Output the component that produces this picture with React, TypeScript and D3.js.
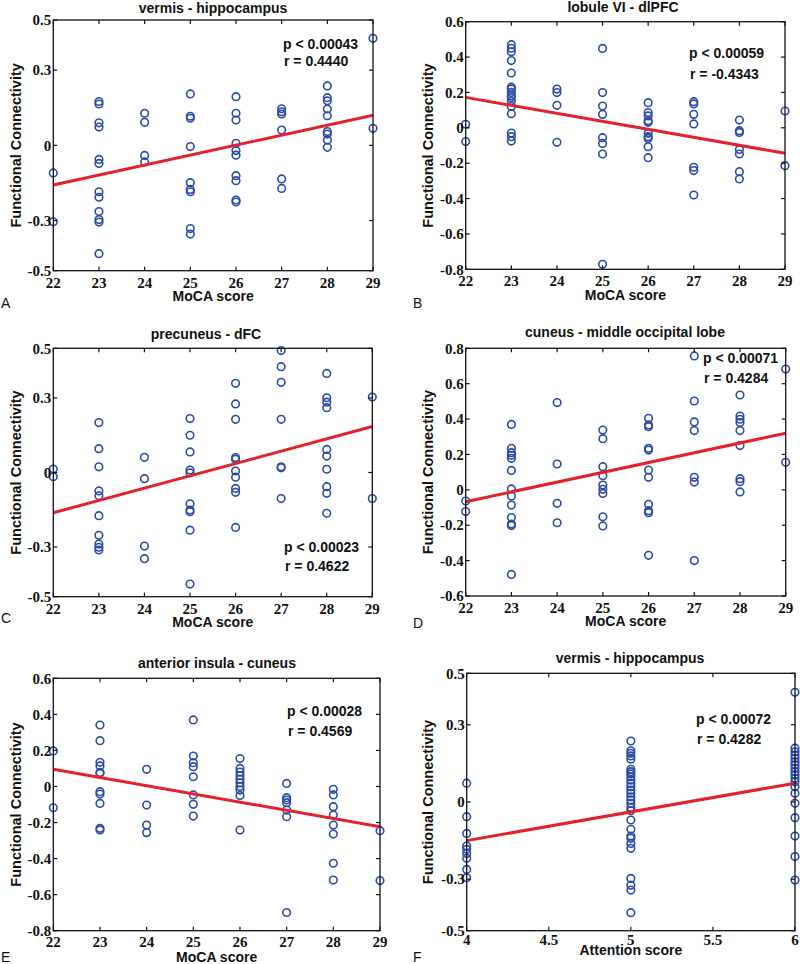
import React from 'react';
import * as d3 from 'd3';

// ---------- tick values ----------
const mocaTicks = [22, 23, 24, 25, 26, 27, 28, 29];
const attentionTicks = [4, 4.5, 5, 5.5, 6];
const yTicksHalf = [-0.5, -0.3, 0, 0.3, 0.5];
const yTicksLow = [-0.8, -0.6, -0.4, -0.2, 0, 0.2, 0.4, 0.6];
const yTicksHigh = [-0.6, -0.4, -0.2, 0, 0.2, 0.4, 0.6, 0.8];

type Group = [number, number[]];

// ---------- A: vermis - hippocampus vs MoCA ----------
const dataA: Group[] = [
  [22, [-0.11, -0.305]],
  [23, [0.175, 0.165, 0.09, 0.073, -0.056, -0.072, -0.185, -0.207, -0.264, -0.296, -0.306, -0.432]],
  [24, [0.128, 0.092, -0.04, -0.066]],
  [25, [0.205, 0.116, 0.108, -0.005, -0.149, -0.176, -0.185, -0.332, -0.354]],
  [26, [0.194, 0.128, 0.101, 0.008, -0.021, -0.039, -0.121, -0.141, -0.218, -0.226]],
  [27, [0.146, 0.134, 0.125, 0.061, -0.134, -0.172]],
  [28, [0.237, 0.19, 0.178, 0.145, 0.118, 0.055, 0.045, 0.021, -0.008]],
  [29, [0.427, 0.068]],
];
const fitA = [-0.158, 0.12];

// ---------- B: lobule VI - dlPFC vs MoCA ----------
const dataB: Group[] = [
  [22, [0.02, -0.078]],
  [23, [0.47, 0.45, 0.43, 0.38, 0.31, 0.23, 0.22, 0.2, 0.18, 0.17, 0.15, 0.12, 0.08, -0.03, -0.05, -0.075]],
  [24, [0.219, 0.199, 0.127, -0.082]],
  [25, [0.449, 0.199, 0.123, 0.076, -0.056, -0.088, -0.148, -0.772]],
  [26, [0.142, 0.086, 0.067, 0.04, 0.031, -0.031, -0.05, -0.06, -0.107, -0.169]],
  [27, [0.148, 0.135, 0.076, 0.022, -0.223, -0.242, -0.38]],
  [28, [0.044, -0.016, -0.026, -0.122, -0.148, -0.248, -0.289]],
  [29, [0.095, -0.214]],
];
const fitB = [0.172, -0.144];

// ---------- C: precuneus - dFC vs MoCA ----------
const dataC: Group[] = [
  [22, [0.014, -0.017]],
  [23, [0.201, 0.096, 0.023, -0.074, -0.094, -0.174, -0.253, -0.288, -0.301, -0.312]],
  [24, [0.061, -0.025, -0.296, -0.347]],
  [25, [0.217, 0.15, 0.083, 0.01, -0.001, -0.126, -0.151, -0.158, -0.232, -0.449]],
  [26, [0.359, 0.276, 0.214, 0.06, 0.053, 0.006, -0.019, -0.064, -0.08, -0.221]],
  [27, [0.491, 0.426, 0.363, 0.214, 0.023, 0.019, -0.105]],
  [28, [0.399, 0.301, 0.283, 0.261, 0.093, 0.066, 0.013, -0.057, -0.084, -0.164]],
  [29, [0.304, -0.105]],
];
const fitC = [-0.162, 0.185];

// ---------- D: cuneus - middle occipital lobe vs MoCA ----------
const dataD: Group[] = [
  [22, [-0.063, -0.123]],
  [23, [0.37, 0.235, 0.21, 0.195, 0.178, 0.11, 0.005, -0.035, -0.086, -0.157, -0.193, -0.202, -0.478]],
  [24, [0.493, 0.146, -0.076, -0.186]],
  [25, [0.338, 0.289, 0.131, 0.08, 0.027, 0.003, -0.02, -0.152, -0.204]],
  [26, [0.404, 0.367, 0.357, 0.235, 0.225, 0.112, 0.071, -0.082, -0.118, -0.129, -0.37]],
  [27, [0.757, 0.502, 0.384, 0.335, 0.071, 0.044, -0.4]],
  [28, [0.536, 0.417, 0.399, 0.38, 0.335, 0.25, 0.063, 0.046, -0.012]],
  [29, [0.683, 0.156]],
];
const fitD = [-0.067, 0.32];

// ---------- E: anterior insula - cuneus vs MoCA ----------
const dataE: Group[] = [
  [22, [0.197, -0.118]],
  [23, [0.341, 0.254, 0.134, 0.114, 0.078, 0.073, -0.029, -0.042, -0.094, -0.232, -0.241]],
  [24, [0.095, -0.103, -0.214, -0.256]],
  [25, [0.369, 0.169, 0.132, 0.11, 0.054, -0.047, -0.099, -0.164]],
  [26, [0.155, 0.1, 0.08, 0.06, 0.04, 0.02, 0.0, -0.02, -0.05, -0.242]],
  [27, [0.017, -0.062, -0.075, -0.09, -0.131, -0.168, -0.699]],
  [28, [-0.016, -0.047, -0.112, -0.158, -0.214, -0.264, -0.426, -0.519]],
  [29, [-0.245, -0.522]],
];
const fitE = [0.095, -0.223];

// ---------- F: vermis - hippocampus vs Attention ----------
const dataF: Group[] = [
  [4, [0.073, -0.057, -0.122, -0.171, -0.184, -0.2, -0.219, -0.262, -0.294]],
  [5, [0.237, 0.199, 0.189, 0.179, 0.166, 0.127, 0.118, 0.109, 0.098, 0.085, 0.072, 0.059, 0.046, 0.034, 0.02, 0.008, -0.005, -0.021, -0.034, -0.07, -0.106, -0.132, -0.141, -0.161, -0.18, -0.297, -0.323, -0.342, -0.43]],
  [6, [0.426, 0.209, 0.195, 0.182, 0.17, 0.156, 0.144, 0.131, 0.118, 0.105, 0.092, 0.079, 0.059, 0.034, -0.005, -0.061, -0.132, -0.212, -0.303]],
];
const fitF = [-0.15, 0.073];

const titles = ['vermis - hippocampus', 'lobule VI - dlPFC', 'precuneus - dFC', 'cuneus - middle occipital lobe', 'anterior insula - cuneus', 'vermis - hippocampus'];
const pTexts = ['p < 0.00043', 'p < 0.00059', 'p < 0.00023', 'p < 0.00071', 'p < 0.00028', 'p < 0.00072'];
const rTexts = ['r = 0.4440', 'r = -0.4343', 'r = 0.4622', 'r = 0.4284', 'r = 0.4569', 'r = 0.4282'];
const letters = ['A', 'B', 'C', 'D', 'E', 'F'];

const SANS = "'Liberation Sans', Arial, Helvetica, sans-serif";
const SERIF = "'Liberation Serif', 'Times New Roman', 'DejaVu Serif', serif";
const BLUE = '#2c4ca8';
const RED = '#e3232b';

interface PanelCfg {
  data: Group[];
  fit: number[];
  xDomain: [number, number];
  xTicks: number[];
  yDomain: [number, number];
  yTicks: number[];
  xLabel: string;
  box: { l: number; r: number; t: number; b: number };
  title: { x: number; y: number };
  stat: { x: number; y1: number; y2: number };
  letter: { x: number; y: number };
  yLabelX: number;
  xTickDy: number;
  xLabelY: number;
}

const panels: PanelCfg[] = [
  { data: dataA, fit: fitA, xDomain: [22, 29], xTicks: mocaTicks, yDomain: [-0.5, 0.5], yTicks: yTicksHalf, xLabel: 'MoCA score',
    box: { l: 53.3, r: 373, t: 20, b: 270.7 }, title: { x: 213, y: 13 }, stat: { x: 283, y1: 49, y2: 66 }, letter: { x: 1, y: 308 }, yLabelX: 21, xTickDy: 17, xLabelY: 301 },
  { data: dataB, fit: fitB, xDomain: [22, 29], xTicks: mocaTicks, yDomain: [-0.8, 0.6], yTicks: yTicksLow, xLabel: 'MoCA score',
    box: { l: 465.7, r: 785, t: 21.7, b: 269.3 }, title: { x: 623, y: 12 }, stat: { x: 689, y1: 58, y2: 79 }, letter: { x: 413, y: 308 }, yLabelX: 433, xTickDy: 17, xLabelY: 300 },
  { data: dataC, fit: fitC, xDomain: [22, 29], xTicks: mocaTicks, yDomain: [-0.5, 0.5], yTicks: yTicksHalf, xLabel: 'MoCA score',
    box: { l: 53.3, r: 372.3, t: 348.3, b: 596.7 }, title: { x: 206, y: 339 }, stat: { x: 284, y1: 552, y2: 571 }, letter: { x: 1, y: 623 }, yLabelX: 21, xTickDy: 17, xLabelY: 627 },
  { data: dataD, fit: fitD, xDomain: [22, 29], xTicks: mocaTicks, yDomain: [-0.6, 0.8], yTicks: yTicksHigh, xLabel: 'MoCA score',
    box: { l: 465.7, r: 785.7, t: 348.3, b: 596 }, title: { x: 625, y: 337 }, stat: { x: 703, y1: 363, y2: 383 }, letter: { x: 413, y: 628 }, yLabelX: 433, xTickDy: 17, xLabelY: 626 },
  { data: dataE, fit: fitE, xDomain: [22, 29], xTicks: mocaTicks, yDomain: [-0.8, 0.6], yTicks: yTicksLow, xLabel: 'MoCA score',
    box: { l: 53.3, r: 380, t: 678.3, b: 930.7 }, title: { x: 217, y: 668 }, stat: { x: 287, y1: 716, y2: 736 }, letter: { x: 1, y: 962 }, yLabelX: 21, xTickDy: 16, xLabelY: 962 },
  { data: dataF, fit: fitF, xDomain: [4, 6], xTicks: attentionTicks, yDomain: [-0.5, 0.5], yTicks: yTicksHalf, xLabel: 'Attention score',
    box: { l: 466.7, r: 795, t: 673.3, b: 930.7 }, title: { x: 630, y: 663 }, stat: { x: 696, y1: 724, y2: 744 }, letter: { x: 413, y: 962 }, yLabelX: 433, xTickDy: 14, xLabelY: 955 },
];

const fmt = (d: number) => (d === 0 ? '0' : String(d));

function Panel({ cfg, idx }: { cfg: PanelCfg; idx: number }) {
  const { box } = cfg;
  const x = d3.scaleLinear().domain(cfg.xDomain).range([box.l, box.r]);
  const y = d3.scaleLinear().domain(cfg.yDomain).range([box.b, box.t]);
  const pts = cfg.data.flatMap(([xv, ys]) => ys.map((yv) => [xv, yv] as [number, number]));
  const fitLine = d3.line<[number, number]>().x((d) => x(d[0])).y((d) => y(d[1]));
  const fitPts: [number, number][] = [[cfg.xDomain[0], cfg.fit[0]], [cfg.xDomain[1], cfg.fit[1]]];
  const tl = 4;
  const cy = (box.t + box.b) / 2;
  return (
    <g>
      <text x={cfg.title.x} y={cfg.title.y} textAnchor="middle" style={{ fontFamily: SANS }} fontWeight="bold" fontSize={14} fill="#111">{titles[idx]}</text>
      {pts.map((p, i) => (
        <circle key={i} cx={x(p[0])} cy={y(p[1])} r={3.8} fill="none" stroke={BLUE} strokeWidth={1.6} />
      ))}
      <path d={fitLine(fitPts) || ''} stroke={RED} strokeWidth={3} fill="none" />
      <rect x={box.l} y={box.t} width={box.r - box.l} height={box.b - box.t} fill="none" stroke="#111" strokeWidth={1.3} />
      {cfg.xTicks.map((t) => (
        <g key={'x' + t}>
          <line x1={x(t)} x2={x(t)} y1={box.b} y2={box.b - tl} stroke="#111" strokeWidth={1.2} />
          <line x1={x(t)} x2={x(t)} y1={box.t} y2={box.t + tl} stroke="#111" strokeWidth={1.2} />
          <text x={x(t)} y={box.b + cfg.xTickDy} textAnchor="middle" style={{ fontFamily: SERIF }} fontWeight="bold" fontSize={15} fill="#111">{fmt(t)}</text>
        </g>
      ))}
      {cfg.yTicks.map((t) => (
        <g key={'y' + t}>
          <line x1={box.l} x2={box.l + tl} y1={y(t)} y2={y(t)} stroke="#111" strokeWidth={1.2} />
          <line x1={box.r} x2={box.r - tl} y1={y(t)} y2={y(t)} stroke="#111" strokeWidth={1.2} />
          <text x={box.l - 2} y={y(t)} dy="0.35em" textAnchor="end" style={{ fontFamily: SERIF }} fontWeight="bold" fontSize={15} fill="#111">{fmt(t)}</text>
        </g>
      ))}
      <text x={cfg.stat.x} y={cfg.stat.y1} style={{ fontFamily: SANS }} fontWeight="bold" fontSize={14} fill="#111">{pTexts[idx]}</text>
      <text x={cfg.stat.x + 1} y={cfg.stat.y2} style={{ fontFamily: SANS }} fontWeight="bold" fontSize={14} fill="#111">{rTexts[idx]}</text>
      <text x={(box.l + box.r) / 2} y={cfg.xLabelY} textAnchor="middle" style={{ fontFamily: SANS }} fontWeight="bold" fontSize={14} fill="#111">{cfg.xLabel}</text>
      <text transform={`translate(${cfg.yLabelX},${cy}) rotate(-90)`} textAnchor="middle" style={{ fontFamily: SANS }} fontWeight="bold" fontSize={14.5} fill="#111">Functional Connectivity</text>
      <text x={cfg.letter.x} y={cfg.letter.y} style={{ fontFamily: SANS }} fontSize={14} fill="#111">{letters[idx]}</text>
    </g>
  );
}

export default function App() {
  return (
    <svg width={800} height={964} style={{ position: 'absolute', left: 0, top: 0, background: '#fff' }}>
      <rect x={0} y={0} width={800} height={964} fill="#fff" />
      {panels.map((p, i) => (
        <Panel key={i} cfg={p} idx={i} />
      ))}
    </svg>
  );
}
